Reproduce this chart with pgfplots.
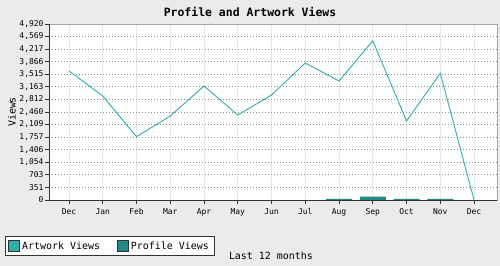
\documentclass[border=0pt]{standalone}
\usepackage{pgfplots}
\pgfplotsset{compat=1.18}
\usepackage{fontspec}
\setmonofont{DejaVu Sans Mono}
\definecolor{bgc}{HTML}{EBEBEB}
\definecolor{artc}{HTML}{2BB0AA}
\definecolor{proc}{HTML}{1F8A85}
\definecolor{axc}{HTML}{333333}
\begin{document}
\begin{tikzpicture}
\path[fill=bgc] (0,0) rectangle (500bp,266bp);
\begin{axis}[
  at={(49bp,66bp)}, anchor=south west,
  scale only axis, width=448bp, height=176bp,
  xmin=-0.593, xmax=12.68, ymin=0, ymax=4920,
  axis background/.style={fill=white},
  axis line style={draw=black!35},
  xtick={0,...,12},
  xticklabels={Dec,Jan,Feb,Mar,Apr,May,Jun,Jul,Aug,Sep,Oct,Nov,Dec},
  ytick={0,351.43,702.86,1054.29,1405.71,1757.14,2108.57,2460,2811.43,3162.86,3514.29,3865.71,4217.14,4568.57,4920},
  yticklabels={0,351,703,{1,054},{1,406},{1,757},{2,109},{2,460},{2,812},{3,163},{3,515},{3,866},{4,217},{4,569},{4,920}},
  tick label style={font=\ttfamily\fontsize{8}{8}\selectfont, text=black},
  tick align=outside, tickpos=left,
  major tick length=4bp,
  tick style={draw=axc, line width=0.8bp},
  xmajorgrids, ymajorgrids,
  x grid style={draw=black!9, line width=0.8bp},
  y grid style={draw=black!45, line width=0.8bp, dash pattern=on 1bp off 2bp},
  xticklabel style={yshift=-1bp},
  yticklabel style={xshift=2bp},
  title={\ttfamily\bfseries\fontsize{11.5}{12}\selectfont Profile and Artwork Views},
  title style={at={(rel axis cs:0.4487,1.034)}, anchor=center},
  ylabel={\ttfamily\fontsize{10}{10}\selectfont Views},
  ylabel style={at={(rel axis cs:-0.0826,0.5)}, anchor=center, rotate=0},
  xlabel={\ttfamily\fontsize{10}{10}\selectfont Last 12 months},
  xlabel style={at={(rel axis cs:0.4955,-0.318)}, anchor=center},
  legend columns=2,
  legend style={at={(rel axis cs:-0.0982,-0.318)}, anchor=south west,
    draw=axc, fill=white, line width=0.8bp,
    font=\ttfamily\fontsize{10}{10}\selectfont,
    inner xsep=3bp, inner ysep=3bp,
    /tikz/every even column/.append style={column sep=15bp}},
  legend cell align=left,
  clip=false,
]
\addplot[color=artc, line width=0.9bp, mark=none,
  legend image code/.code={\draw[fill=artc,draw=axc,line width=0.8bp] (0bp,-5.5bp) rectangle (11bp,5.5bp);}]
  coordinates {(0,3606) (1,2907) (2,1770) (3,2348) (4,3186) (5,2376) (6,2935) (7,3829) (8,3326) (9,4453) (10,2208) (11,3541) (12,0)};
\addlegendentry{Artwork Views}
\addplot[ybar, bar width=26bp, bar shift=0pt, fill=proc, draw=none,
  legend image code/.code={\draw[fill=proc,draw=axc,line width=0.8bp] (0bp,-5.5bp) rectangle (11bp,5.5bp);}]
  coordinates {(0,0) (1,0) (2,0) (3,0) (4,0) (5,0) (6,0) (7,0) (8,30) (9,95) (10,30) (11,30) (12,0)};
\addlegendentry{Profile Views}
\draw[axc, line width=0.8bp] (rel axis cs:0,1) -- (rel axis cs:0,0) -- (rel axis cs:1,0);
\end{axis}
\pgfresetboundingbox
\path (0,0) rectangle (500bp,266bp);
\end{tikzpicture}
\end{document}
